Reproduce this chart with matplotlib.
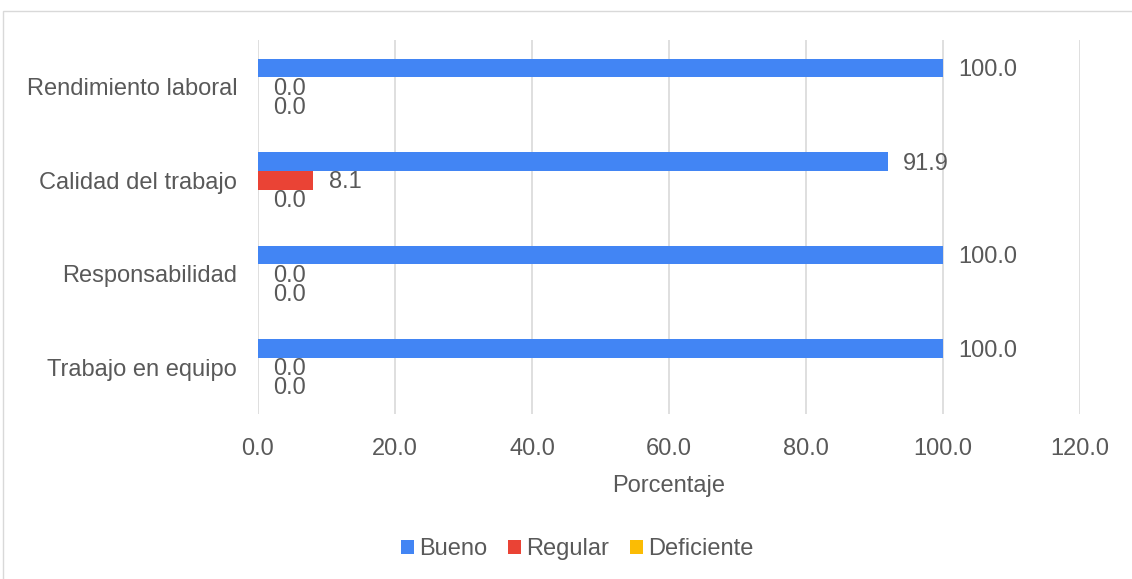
import matplotlib
matplotlib.use("Agg")
import matplotlib.pyplot as plt
from matplotlib.patches import Rectangle
import numpy as np

plt.rcParams["font.family"] = ["Liberation Sans", "DejaVu Sans"]

categories = ["Rendimiento laboral", "Calidad del trabajo", "Responsabilidad", "Trabajo en equipo"]
series_names = ["Bueno", "Regular", "Deficiente"]
bueno = [100.0, 91.9, 100.0, 100.0]
regular = [0.0, 8.1, 0.0, 0.0]
deficiente = [0.0, 0.0, 0.0, 0.0]
x_ticks = [0, 20, 40, 60, 80, 100, 120]

colors = ["#4285F4", "#EA4335", "#FBBC04"]
text_col = "#595959"
grid_col = "#d9d9d9"
fs = 17

W, H = 1132, 579
fig = plt.figure(figsize=(W / 100, H / 100), dpi=100)

# outer chart frame
fig.patches.append(Rectangle((3 / W, -0.1), 1.2, 1 - 11 / H + 0.1,
                             transform=fig.transFigure, fill=False,
                             edgecolor="#d9d9d9", lw=1.0))

ax = fig.add_axes([258 / W, 1 - 414 / H, (1080 - 258) / W, (414 - 40) / H])

y = np.arange(len(categories))
h = 0.2
for i, (name, vals) in enumerate(zip(series_names, [bueno, regular, deficiente])):
    pos = y + (i - 1) * h
    ax.barh(pos, vals, height=h, color=colors[i], label=name, zorder=3)
    for p, v in zip(pos, vals):
        ax.annotate(f"{v:.1f}", (v, p), xytext=(11, -1.5), textcoords="offset points",
                    ha="left", va="center", fontsize=fs, color=text_col)

ax.set_xlim(0, 120)
ax.set_ylim(len(categories) - 0.5, -0.5)
ax.set_xticks(x_ticks)
ax.set_xticklabels([f"{t:.1f}" for t in x_ticks])
ax.set_yticks(y)
ax.set_yticklabels(categories)
ax.tick_params(axis="both", length=0, labelsize=fs, labelcolor=text_col)
ax.tick_params(axis="x", pad=17)
ax.tick_params(axis="y", pad=15)
ax.grid(axis="x", color=grid_col, lw=1.2, zorder=0)
for s in ax.spines.values():
    s.set_visible(False)
ax.set_xlabel("Porcentaje", fontsize=fs, color=text_col, labelpad=11)

fig.legend(loc="center", bbox_to_anchor=(577 / W, 1 - 549 / H), ncol=3,
           frameon=False, fontsize=fs, labelcolor=text_col,
           handlelength=0.55, handleheight=0.55, handletextpad=0.2, columnspacing=0.9)

fig.savefig("out.png", dpi=100)
